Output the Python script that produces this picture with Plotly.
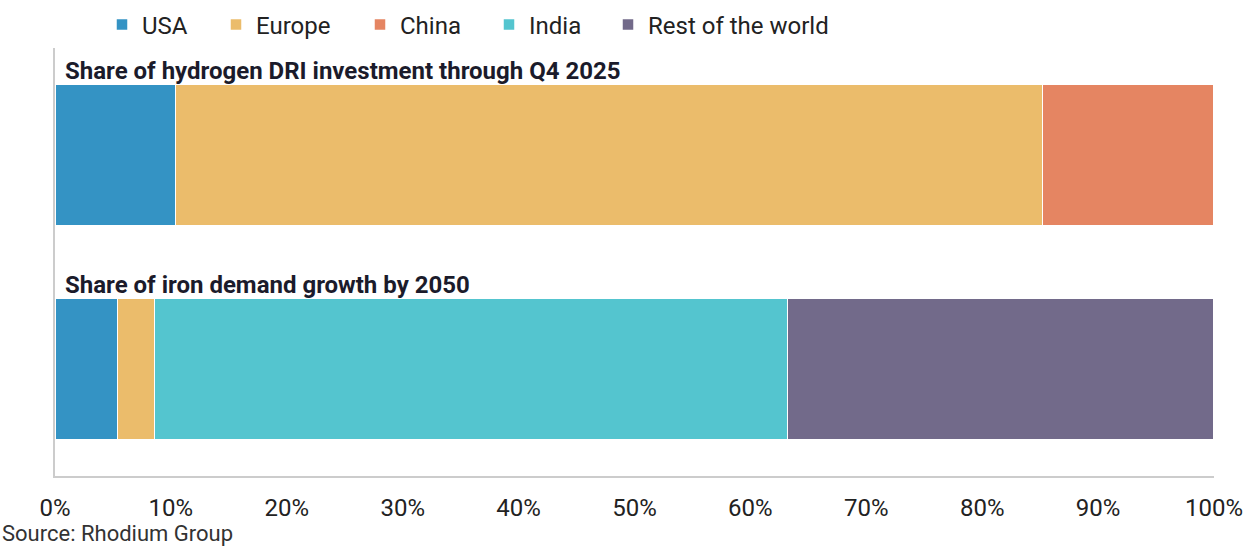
import plotly.graph_objects as go

# Two stacked-share bars, one per metric
bars = ["Share of hydrogen DRI investment through Q4 2025",
        "Share of iron demand growth by 2050"]

regions = ["USA", "Europe", "China", "India", "Rest of the world"]
colors = ["#3493C4", "#EBBC6B", "#E58562", "#54C5CF", "#726A8A"]

# Percent shares per region: [investment, demand growth]
usa = [10.4, 5.4]
europe = [74.8, 3.2]
china = [14.8, None]
india = [None, 54.6]
rest = [None, 36.8]
shares = [usa, europe, china, india, rest]

tick_vals = [0, 10, 20, 30, 40, 50, 60, 70, 80, 90, 100]
tick_text = [f"{v}%" for v in tick_vals]

W, H = 1245, 546
ML, MR, MT, MB = 55, 31, 48, 70
PW, PH = W - ML - MR, H - MT - MB
FONT = "Roboto"
TXT = "#222222"

fig = go.Figure()
legend_x = [121, 235, 379, 508, 627]
for i, (name, col, vals) in enumerate(zip(regions, colors, shares)):
    lg = "legend" if i == 0 else f"legend{i + 1}"
    fig.add_trace(go.Bar(
        y=bars, x=vals, name=name, orientation="h",
        marker=dict(color=col, line=dict(color="white", width=1.5)),
        legend=lg, hoverinfo="x+name",
    ))
    fig.update_layout({lg: dict(
        orientation="h", xref="container", yref="container",
        x=(legend_x[i] - 19) / W, y=1 - 25 / H, xanchor="left", yanchor="middle",
        font=dict(family=FONT, size=24, color=TXT),
        bgcolor="rgba(0,0,0,0)", borderwidth=0,
    )})

for b in bars:
    fig.add_annotation(
        x=0, y=b, xref="x", yref="y", text=f"<b>{b}</b>", showarrow=False,
        xanchor="left", yanchor="bottom", xshift=8, yshift=68,
        font=dict(family=FONT, size=24, color="#1b1b2b"),
    )

fig.add_annotation(
    x=(0 - ML) / PW, y=(H - MB - 533) / PH, xref="paper", yref="paper",
    text="Source: Rhodium Group", showarrow=False, xanchor="left", yanchor="middle",
    font=dict(family=FONT, size=22, color="#333333"),
)

fig.update_layout(
    width=W, height=H, barmode="stack", bargap=0.336,
    plot_bgcolor="white", paper_bgcolor="white",
    margin=dict(l=ML, r=MR, t=MT, b=MB, autoexpand=False),
    showlegend=True,
    xaxis=dict(range=[0, 100], tickvals=tick_vals, ticktext=tick_text,
               showgrid=False, zeroline=False, showline=True,
               linecolor="#cccccc", linewidth=2, ticks="",
               ticklabelstandoff=9, automargin=False,
               tickfont=dict(family=FONT, size=24, color=TXT)),
    yaxis=dict(autorange="reversed", showticklabels=False, showgrid=False,
               zeroline=False, showline=True, linecolor="#cccccc", linewidth=2,
               ticks="", automargin=False),
)

fig.write_html("out.html")
